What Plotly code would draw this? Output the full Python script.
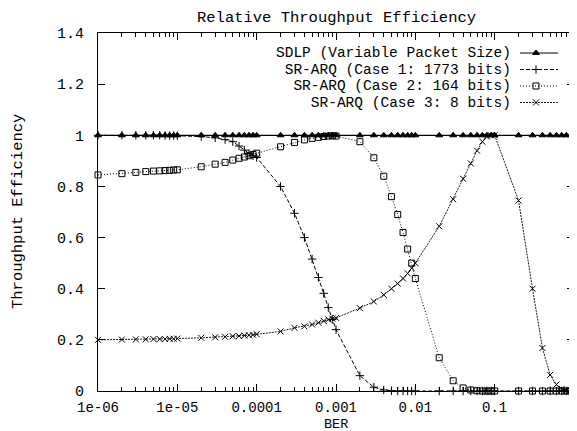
import plotly.graph_objects as go

# ---------------- data ----------------
ber = [1e-06, 2e-06, 3e-06, 4e-06, 5e-06, 6e-06, 7e-06, 8e-06, 9e-06,
       1e-05, 2e-05, 3e-05, 4e-05, 5e-05, 6e-05, 7e-05, 8e-05, 9e-05,
       0.0001, 0.0002, 0.0003, 0.0004, 0.0005, 0.0006, 0.0007, 0.0008, 0.0009,
       0.001, 0.002, 0.003, 0.004, 0.005, 0.006, 0.007, 0.008, 0.009,
       0.01, 0.02, 0.03, 0.04, 0.05, 0.06, 0.07, 0.08, 0.09,
       0.1, 0.2, 0.3, 0.4, 0.5, 0.6, 0.7, 0.8, 0.9,
       1.0]

sdlp = [1.0] * 55

case1 = [1.0, 1.0, 1.0, 1.0, 1.0, 1.0, 0.999, 0.999, 0.999,
         0.998, 0.995, 0.99, 0.983, 0.975, 0.958, 0.942, 0.929, 0.92,
         0.913, 0.80, 0.695, 0.60, 0.516, 0.444, 0.382, 0.326, 0.28,
         0.24, 0.06, 0.015, 0.004, 0.001, 0.0, 0.0, 0.0, 0.0,
         0.0, 0.0, 0.0, 0.0, 0.0, 0.0, 0.0, 0.0, 0.0,
         0.0, 0.0, 0.0, 0.0, 0.0, 0.0, 0.0, 0.0, 0.0,
         0.0]

case2 = [0.845, 0.85, 0.855, 0.858, 0.86, 0.861, 0.862, 0.863, 0.864,
         0.865, 0.877, 0.887, 0.894, 0.903, 0.91, 0.915, 0.92, 0.925,
         0.93, 0.955, 0.972, 0.982, 0.988, 0.992, 0.995, 0.997, 0.998,
         0.997, 0.975, 0.912, 0.84, 0.76, 0.69, 0.62, 0.555, 0.5,
         0.44, 0.13, 0.04, 0.012, 0.004, 0.001, 0.0, 0.0, 0.0,
         0.0, 0.0, 0.0, 0.0, 0.0, 0.0, 0.0, 0.0, 0.0,
         0.0]

case3 = [0.200, 0.201, 0.202, 0.202, 0.203, 0.203, 0.203, 0.204, 0.204,
         0.205, 0.208, 0.210, 0.212, 0.214, 0.215, 0.217, 0.218, 0.220,
         0.222, 0.233, 0.247, 0.253, 0.26, 0.267, 0.274, 0.28, 0.283,
         0.286, 0.324, 0.35, 0.376, 0.40, 0.42, 0.44, 0.46, 0.48,
         0.50, 0.644, 0.75, 0.83, 0.89, 0.94, 0.975, 0.995, 1.0,
         1.0, 0.745, 0.40, 0.168, 0.063, 0.025, 0.008, 0.003, 0.001,
         0.0]

series_names = ["SDLP (Variable Packet Size)",
                "SR-ARQ (Case 1: 1773 bits)",
                "SR-ARQ (Case 2: 164 bits)",
                "SR-ARQ (Case 3: 8 bits)"]

x_tickvals = [1e-06, 1e-05, 0.0001, 0.001, 0.01, 0.1, 1]
x_ticktext = ["1e-06", "1e-05", "0.0001", "0.001", "0.01", "0.1", "1"]
y_tickvals = [0, 0.2, 0.4, 0.6, 0.8, 1.0, 1.2, 1.4]

# ---------------- styles ----------------
FONT = "Liberation Mono"
FS = 15.5       # title / y title
FSY = 15        # y tick labels
FSK = 14.5      # key text
FSX = 14        # x tick labels
FSB = 13.5      # x title
styles = [
    dict(dash="solid", width=1.2, symbol="triangle-up", size=6),
    dict(dash="4px,2px", width=1.0, symbol="cross-thin-open", size=6),
    dict(dash="1px,2px", width=1.0, symbol="square-open", size=6),
    dict(dash="2px,1px", width=0.9, symbol="x-thin-open", size=6),
]

# page offset: the browser's default body margin (8px) shifts the figure
OFF = 8
PAGE_W, PAGE_H = 577, 431
W, H = PAGE_W - OFF, PAGE_H - OFF
# plot frame in page pixels: x 98..574, y 33..391
FL, FR, FT, FB = 98, 574, 33, 391
ML, MT = FL - OFF, FT - OFF
MR = W - (FR - OFF)
MB = H - (FB - OFF)
pw, ph = FR - FL, FB - FT

def px2x(px):  # page pixel -> paper x
    return (px - FL) / pw

def py2y(py):  # page pixel -> paper y
    return (FB - py) / ph

fig = go.Figure()
for name, ys, st in zip(series_names, [sdlp, case1, case2, case3], styles):
    fig.add_trace(go.Scatter(
        x=ber, y=ys, mode="lines+markers", name=name, showlegend=False,
        cliponaxis=False,
        line=dict(color="black", width=st["width"], dash=st["dash"]),
        marker=dict(symbol=st["symbol"], size=st["size"], color="black",
                    line=dict(color="black", width=1)),
    ))

# gnuplot-style key: right-aligned text with sample line to the right
key_text_right = 513
key_line = (520, 558)
key_rows = [53, 69.5, 86, 102.5]
ROW = key_rows[1] - key_rows[0]

annotations = []
key_text = "<br>".join(
    f'<span style="font-size:{FSK}px">{n}</span>' for n in series_names)
annotations.append(dict(
    text=key_text, xref="paper", yref="paper", x=px2x(key_text_right),
    y=py2y(sum(key_rows) / len(key_rows)),
    xanchor="right", yanchor="middle", align="right", showarrow=False,
    font=dict(family=FONT, size=ROW / 1.3, color="black")))

for st, row in zip(styles, key_rows):
    fig.add_trace(go.Scatter(
        x=[px2x(key_line[0]), px2x(key_line[1])], y=[py2y(row)] * 2,
        xaxis="x2", yaxis="y2", mode="lines", showlegend=False, hoverinfo="skip",
        line=dict(color="black", width=st["width"], dash=st["dash"])))
    fig.add_trace(go.Scatter(
        x=[px2x((key_line[0] + key_line[1]) / 2 - 3)], y=[py2y(row)],
        xaxis="x2", yaxis="y2", mode="markers", showlegend=False, hoverinfo="skip",
        marker=dict(symbol=st["symbol"], size=st["size"], color="black",
                    line=dict(color="black", width=1))))

annotations.append(dict(
    text="Throughput Efficiency", xref="paper", yref="paper",
    x=px2x(18), y=0.5, textangle=-90, showarrow=False,
    xanchor="center", yanchor="middle",
    font=dict(family=FONT, size=FS, color="black")))
annotations.append(dict(
    text="BER", xref="paper", yref="paper", x=0.5, y=py2y(424),
    showarrow=False, xanchor="center", yanchor="middle",
    font=dict(family=FONT, size=FSB, color="black")))
annotations.append(dict(
    text="Relative Throughput Efficiency", xref="paper", yref="paper",
    x=0.5, y=py2y(18), showarrow=False, xanchor="center", yanchor="middle",
    font=dict(family=FONT, size=FS, color="black")))

minor_vals = [b for b in ber if b not in x_tickvals]

fig.update_layout(
    width=W, height=H,
    margin=dict(l=ML, r=MR, t=MT, b=MB, pad=0),
    paper_bgcolor="white", plot_bgcolor="white",
    showlegend=False,
    annotations=annotations,
    font=dict(family=FONT, size=FS, color="black"),
    xaxis=dict(
        type="log", range=[-6, 0], tickvals=x_tickvals, ticktext=x_ticktext,
        ticks="inside", ticklen=7, tickwidth=1, tickcolor="black",
        showline=True, linecolor="black", linewidth=1, mirror="allticks",
        showgrid=False, zeroline=False, automargin=False,
        ticklabelstandoff=3,
        tickfont=dict(family=FONT, size=FSX, color="black"),
        minor=dict(tickvals=minor_vals, ticks="inside", ticklen=4,
                   tickwidth=1, tickcolor="black", showgrid=False),
    ),
    yaxis=dict(
        range=[0, 1.4], tickvals=y_tickvals,
        ticks="inside", ticklen=7, tickwidth=1, tickcolor="black",
        showline=True, linecolor="black", linewidth=1, mirror="allticks",
        showgrid=False, zeroline=False, automargin=False,
        ticklabelstandoff=10,
        tickfont=dict(family=FONT, size=FSY, color="black"),
    ),
    xaxis2=dict(overlaying="x", range=[0, 1], visible=False, fixedrange=True),
    yaxis2=dict(overlaying="y", range=[0, 1], visible=False, fixedrange=True),
)

fig.write_html("out.html")
